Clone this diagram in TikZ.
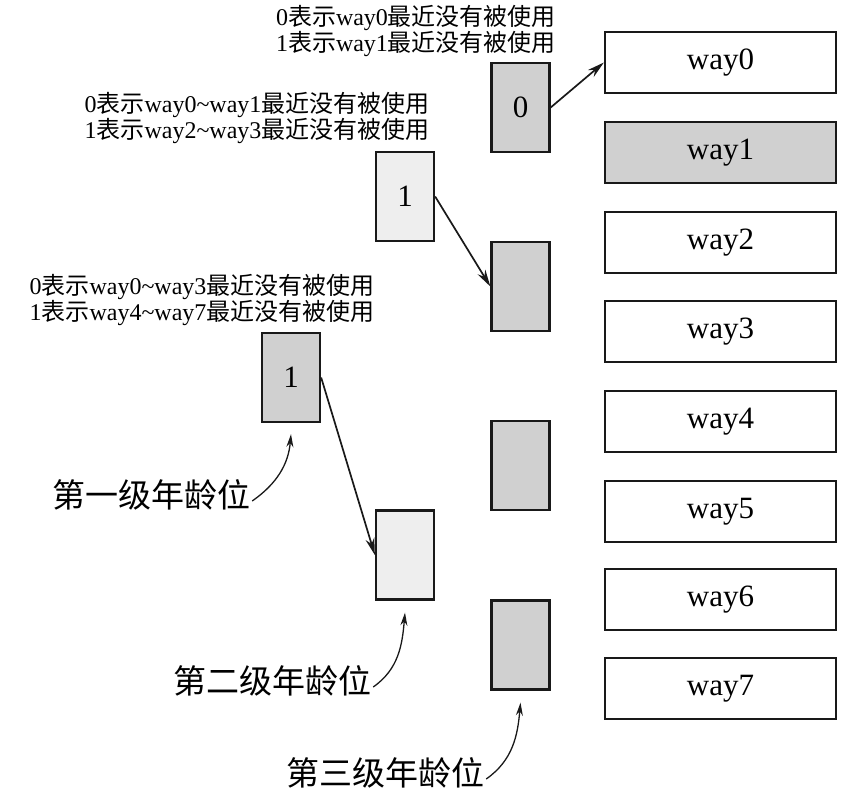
\documentclass[tikz,border=0pt]{standalone}
\usepackage{fontspec}
\setmainfont{Liberation Serif}
\newfontfamily\cjk{Noto Sans CJK SC}
\newcommand{\zh}[1]{{\cjk #1}}
\usetikzlibrary{arrows.meta}
\definecolor{shade}{RGB}{208,208,208}
\definecolor{pale}{RGB}{238,238,238}
\definecolor{ink}{RGB}{25,25,25}
\begin{document}
\begin{tikzpicture}[x=1pt,y=1pt,
  waybox/.style={draw=ink,line width=2.3pt,minimum width=231pt,minimum height=61pt,
    inner sep=0pt,font=\fontsize{31}{31}\selectfont},
  bitbox/.style={draw=ink,line width=2.3pt,minimum width=58pt,minimum height=89pt,
    inner sep=0pt,font=\fontsize{31}{31}\selectfont},
  note/.style={align=center,inner sep=0pt,font=\fontsize{24}{26}\selectfont},
  level/.style={inner sep=0pt,font=\cjk\fontsize{33}{33}\selectfont},
  link/.style={draw=ink,line width=1.7pt,-{Stealth[length=17pt,width=9pt]}},
  hint/.style={draw=ink,line width=1.3pt,-{Stealth[length=13pt,width=7pt]}}]
\useasboundingbox (0,0) rectangle (864,-798);

% cache ways
\node[waybox]            (way0) at (720.5,-62.5)  {way0};
\node[waybox,fill=shade] (way1) at (720.5,-152.5) {way1};
\node[waybox]            (way2) at (720.5,-242.5) {way2};
\node[waybox]            (way3) at (720.5,-331.5) {way3};
\node[waybox]            (way4) at (720.5,-421.5) {way4};
\node[waybox]            (way5) at (720.5,-511.5) {way5};
\node[waybox]            (way6) at (720.5,-599.5) {way6};
\node[waybox]            (way7) at (720.5,-688.5) {way7};

% third-level age bits
\node[bitbox,fill=shade] (c0) at (520.5,-107.5) {0};
\node[bitbox,fill=shade] (c1) at (520.5,-286.5) {};
\node[bitbox,fill=shade] (c2) at (520.5,-465.5) {};
\node[bitbox,fill=shade] (c3) at (520.5,-645)   {};

% second-level age bits
\node[bitbox,fill=pale] (b0) at (405,-196.5) {1};
\node[bitbox,fill=pale] (b1) at (405,-555)   {};

% first-level age bit
\node[bitbox,fill=shade] (a0) at (291,-377.5) {1};

% meaning of each bit
\node[note] (n3) at (416,-31)
  {0\zh{表示}way0\zh{最近没有被使用}\\1\zh{表示}way1\zh{最近没有被使用}};
\node[note] (n2) at (257,-118)
  {0\zh{表示}way0\textasciitilde way1\zh{最近没有被使用}\\1\zh{表示}way2\textasciitilde way3\zh{最近没有被使用}};
\node[note] (n1) at (202,-300)
  {0\zh{表示}way0\textasciitilde way3\zh{最近没有被使用}\\1\zh{表示}way4\textasciitilde way7\zh{最近没有被使用}};

% level names
\node[level] (l1) at (151,-495) {第一级年龄位};
\node[level] (l2) at (272,-681) {第二级年龄位};
\node[level] (l3) at (385,-773) {第三级年龄位};

% pointers followed by the bits
\draw[link] (c0.east) -- (way0.west);
\draw[link] (b0.east) -- (c1.west);
\draw[link] (a0.east) -- (b1.west);

% level markers
\coordinate (t1) at ([yshift=-11pt]a0.south);
\coordinate (t2) at ([yshift=-12pt]b1.south);
\coordinate (t3) at ([yshift=-12pt]c3.south);
\draw[hint] ([xshift=2pt,yshift=-6pt]l1.east) to[out=35,in=-95] (t1);
\draw[hint] ([xshift=2pt,yshift=-6pt]l2.east) to[out=35,in=-95] (t2);
\draw[hint] ([xshift=2pt,yshift=-6pt]l3.east) to[out=35,in=-95] (t3);
\end{tikzpicture}
\end{document}
